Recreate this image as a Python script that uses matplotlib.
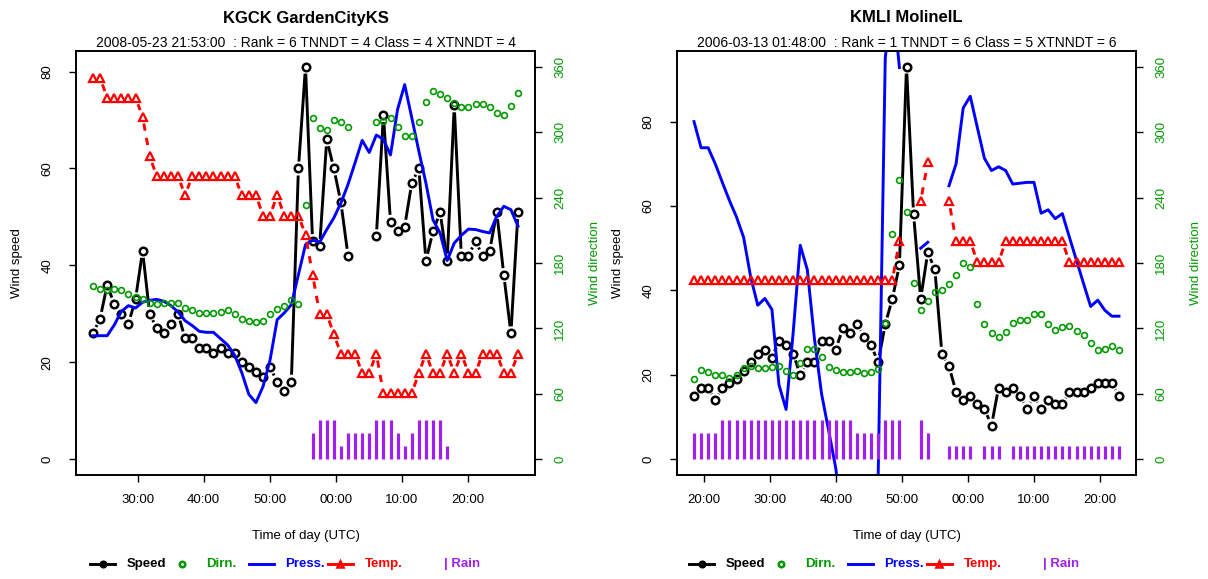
import numpy as np
import matplotlib
matplotlib.use("Agg")
import matplotlib.pyplot as plt
from matplotlib.collections import LineCollection
from matplotlib.lines import Line2D

plt.rcParams['font.family'] = ['Liberation Sans', 'DejaVu Sans']

nan = np.nan

# one sample every ~1.07 min, start given in minutes past the hour
step = 1.073
kgck_start = 23.23
kmli_start = 18.49

kgck_speed = [26, 29, 36, 32, 30, 28, 33, 43, 30, 27,
              26, 28, 30, 25, 25, 23, 23, 22, 23, 22,
              22, 20, 19, 18, 17, 19, 16, 14, 16, 60,
              81, 45, 44, 66, 60, 53, 42, nan, nan, nan,
              46, 71, 49, 47, 48, 57, 60, 41, 47, 51,
              41, 73, 42, 42, 45, 42, 43, 51, 38, 26,
              51]
kgck_dir = [159, 156, 155, 156, 155, 152, 149, 147, 143, 142,
            143, 143, 143, 139, 137, 134, 134, 134, 135, 137,
            133, 129, 127, 126, 127, 133, 138, 141, 146, 142,
            233, 313, 304, 302, 311, 309, 305, nan, nan, nan,
            309, 310, 313, 305, 296, 296, 309, 328, 338, 335,
            331, 327, 323, 323, 326, 326, 323, 318, 316, 324,
            336]
kgck_press = [25.5, 25.5, 25.5, 27.7, 30.5, 31.7, 31.2, 32.4, 32.8, 33.0,
              32.6, 31.7, 30.4, 28.6, 27.6, 26.4, 26.2, 26.2, 24.9, 23.6,
              21.5, 17.9, 13.4, 11.7, 15.0, 20.5, 28.8, 30.2, 31.9, 38.1,
              44.3, 45.2, 44.8, 47.4, 49.8, 52.9, 56.7, 61.2, 65.8, 63.3,
              66.9, 66.0, 62.8, 72.2, 77.3, 70.5, 63.6, 57.0, 49.4, 46.7,
              41.0, 44.6, 46.2, 47.5, 47.4, 47.0, 46.7, 50.1, 52.2, 51.5,
              48.1]
kgck_temp = [78.7, 78.7, 74.6, 74.6, 74.6, 74.6, 74.6, 70.7, 62.5, 58.4,
             58.4, 58.4, 58.4, 54.5, 58.4, 58.4, 58.4, 58.4, 58.4, 58.4,
             58.4, 54.5, 54.5, 54.5, 50.3, 50.3, 54.5, 50.3, 50.3, 50.3,
             46.3, 38.1, 30.0, 30.0, 25.8, 21.8, 21.8, 21.8, 17.8, 17.8,
             21.8, 13.6, 13.6, 13.6, 13.6, 13.6, 17.8, 21.8, 17.8, 17.8,
             21.8, 17.8, 21.8, 17.8, 17.8, 21.8, 21.8, 21.8, 17.8, 17.8,
             21.8]
kgck_rain = [0, 0, 0, 0, 0, 0, 0, 0, 0, 0,
             0, 0, 0, 0, 0, 0, 0, 0, 0, 0,
             0, 0, 0, 0, 0, 0, 0, 0, 0, 0,
             0, 2, 3, 3, 3, 1, 2, 2, 2, 2,
             3, 3, 3, 2, 1, 2, 3, 3, 3, 3,
             1, 0, 0, 0, 0, 0, 0, 0, 0, 0,
             0]

kmli_speed = [15, 17, 17, 14, 17, 18, 19, 21, 23, 25,
              26, 24, 28, 27, 25, 20, 23, 23, 28, 28,
              26, 31, 30, 32, 29, 27, 23, 32, 38, 46,
              93, 58, 38, 49, 45, 25, 22, 16, 14, 15,
              13, 12, 8, 17, 16, 17, 15, 12, 15, 12,
              14, 13, 13, 16, 16, 16, 17, 18, 18, 18,
              15]
kmli_dir = [74, 82, 80, 77, 77, 75, 77, 84, 86, 84,
            84, 85, 86, 81, 77, 88, 101, 101, 94, 85,
            82, 80, 80, 81, 79, 80, 83, 125, 207, 256,
            227, 162, 137, 145, 153, 155, 161, 169, 180, 176,
            142, 124, 116, 112, 117, 125, 128, 128, 133, 133,
            124, 119, 121, 122, 118, 114, 107, 100, 101, 104,
            100]
kmli_press = [80.0, 73.8, 73.8, 70.0, 65.6, 61.3, 57.4, 52.6, 43.2, 36.5,
              38.1, 35.5, 17.6, 11.8, 30.0, 50.7, 44.9, 28.6, 15.6, 6.9,
              -2.0, -15.0, -25.0, -30.0, -25.0, -15.0, -4.0, 95.0, 110.0, 92.8,
              nan, nan, 50.0, 51.4, nan, nan, 64.8, 70.0, 83.2, 86.0,
              78.6, 71.3, 68.4, 69.3, 68.4, 65.2, 65.4, 65.6, 65.6, 58.3,
              59.1, 57.0, 58.2, 52.6, 47.1, 41.6, 36.2, 37.7, 35.3, 33.9,
              33.9]
kmli_temp = [42.4, 42.4, 42.4, 42.4, 42.4, 42.4, 42.4, 42.4, 42.4, 42.4,
             42.4, 42.4, 42.4, 42.4, 42.4, 42.4, 42.4, 42.4, 42.4, 42.4,
             42.4, 42.4, 42.4, 42.4, 42.4, 42.4, 42.4, 42.4, 42.4, 51.7,
             nan, nan, 61.1, 70.4, nan, nan, 61.1, 51.7, 51.7, 51.7,
             46.7, 46.7, 46.7, 46.7, 51.7, 51.7, 51.7, 51.7, 51.7, 51.7,
             51.7, 51.7, 51.7, 46.7, 46.7, 46.7, 46.7, 46.7, 46.7, 46.7,
             46.7]
kmli_rain = [2, 2, 2, 2, 3, 3, 3, 3, 3, 3,
             3, 3, 3, 3, 3, 3, 3, 3, 3, 3,
             3, 3, 3, 2, 2, 2, 2, 3, 3, 3,
             0, 0, 3, 2, 0, 0, 1, 1, 1, 1,
             0, 1, 1, 1, 0, 1, 1, 1, 1, 1,
             1, 1, 1, 1, 1, 1, 1, 1, 1, 1,
             1]

GREEN = '#009A00'
BLUE = '#0000FF'
RED = '#FF0000'
PURPLE = '#A020F0'

W, H = 1208, 579
fig = plt.figure(figsize=(W / 100, H / 100), dpi=100)


def gapped(ax, x, y, gap):
    # R type="b": segments stop short of the points
    pts = ax.transData.transform(np.column_stack([x, y]))
    inv = ax.transData.inverted()
    segs = []
    for p0, p1 in zip(pts[:-1], pts[1:]):
        if not (np.isfinite(p0).all() and np.isfinite(p1).all()):
            continue
        d = p1 - p0
        dist = np.hypot(*d)
        if dist <= 2 * gap:
            continue
        u = d / dist * gap
        segs.append(inv.transform(np.array([p0 + u, p1 - u])))
    return segs


def panel(left_px, title, subtitle, start, speed, dirn, press, temp, rain):
    rect = [left_px / W, 1 - 475 / H, 459 / W, 424 / H]
    ax = fig.add_axes(rect)
    speed = np.array(speed, float)
    t = start + step * np.arange(len(speed))
    span = t[-1] - t[0]
    smax = np.nanmax(speed)
    ax.set_xlim(t[0] - 0.04 * span, t[-1] + 0.04 * span)
    ax.set_ylim(-0.04 * smax, 1.04 * smax)

    ax2 = ax.twinx()
    ax2.set_ylim(-0.04 * 360, 1.04 * 360)

    # speed
    ax.add_collection(LineCollection(gapped(ax, t, speed, 7), colors='black', linewidths=2.1))
    ax.plot(t, speed, 'o', mfc='none', mec='black', ms=5.4, mew=1.8)

    # pressure
    ax.plot(t, press, color=BLUE, lw=2.1)

    # temperature
    ax.add_collection(LineCollection(gapped(ax, t, temp, 7), colors=RED, linewidths=2.1,
                                     linestyles=(0, (2.5, 2.5))))
    ax.plot(t, temp, '^', mfc='none', mec=RED, ms=6.2, mew=1.6)

    # rain
    r = np.array(rain, float)
    m = r > 0
    ax.vlines(t[m], 0, r[m] * smax / 30, color=PURPLE, lw=2.3)

    # direction
    ax2.plot(t, dirn, 'o', mfc='none', mec=GREEN, ms=4.2, mew=1.2)

    ticks = np.arange(np.ceil(t[0] / 10) * 10, t[-1], 10)
    ax.set_xticks(ticks)
    ax.set_xticklabels([f"{int(v) % 60:02d}:00" for v in ticks])
    ax.set_yticks(np.arange(0, smax, 20))
    ax2.set_yticks(np.arange(0, 361, 60))
    ax.tick_params(axis='x', length=5, width=1, pad=8.5, labelsize=9.5)
    ax.tick_params(axis='y', length=5, width=1, pad=11, labelsize=9.5, labelrotation=90)
    ax2.tick_params(axis='y', length=5, width=1, pad=9, labelsize=9.5, labelrotation=90,
                    labelcolor=GREEN)
    for lab in ax.get_yticklabels():
        lab.set_va('center')
    for lab in ax2.get_yticklabels():
        lab.set_va('center')
    for a in (ax, ax2):
        for s in a.spines.values():
            s.set_linewidth(1.2)

    tr = ax.transAxes
    ax.text(0.5, (475 - 18) / 424, title, transform=tr, ha='center', va='center',
            fontsize=12, fontweight='bold')
    ax.text(0.5, (475 - 43) / 424, subtitle, transform=tr, ha='center', va='center', fontsize=10)
    ax.text(0.5, (475 - 536) / 424, 'Time of day (UTC)', transform=tr, ha='center',
            va='center', fontsize=9.5)
    ax.text((17 - 76) / 459, 0.5, 'Wind speed', transform=tr, ha='center', va='center',
            rotation=90, fontsize=9.5)
    ax.text(519 / 459, 0.5, 'Wind direction', transform=tr, ha='center',
            va='center', rotation=90, fontsize=9.5, color=GREEN)
    return ax


def legend_row(x_px):
    y = 1 - 564 / H
    items = [('Speed', 'black', True, 'o'), ('Dirn.', GREEN, False, 'o'),
             ('Press.', BLUE, True, None), ('Temp.', RED, True, '^'),
             ('| Rain', PURPLE, False, None)]
    for i, (label, color, line, marker) in enumerate(items):
        x0 = x_px + i * 79.3
        if line:
            fig.add_artist(Line2D([x0 / W, (x0 + 25) / W], [y, y], transform=fig.transFigure,
                                  color=color, lw=2.1))
        if marker:
            fig.add_artist(Line2D([(x0 + 12.5) / W], [y], transform=fig.transFigure,
                                  marker=marker, mfc='none', mec=color, ms=4, mew=1.8))
        fig.text((x0 + 37) / W, y, label, color=color, fontweight='bold', fontsize=9.5,
                 ha='left', va='center')


panel(76, 'KGCK GardenCityKS',
      '2008-05-23 21:53:00  : Rank = 6 TNNDT = 4 Class = 4 XTNNDT = 4',
      kgck_start, kgck_speed, kgck_dir, kgck_press, kgck_temp, kgck_rain)
panel(677, 'KMLI MolineIL',
      '2006-03-13 01:48:00  : Rank = 1 TNNDT = 6 Class = 5 XTNNDT = 6',
      kmli_start, kmli_speed, kmli_dir, kmli_press, kmli_temp, kmli_rain)
legend_row(90)
legend_row(689)

fig.savefig('out.png', dpi=100)
